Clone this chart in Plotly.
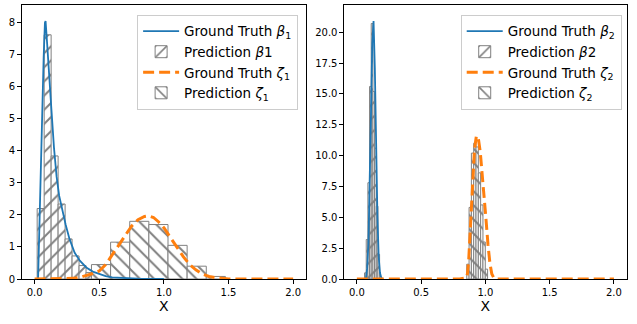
import plotly.graph_objects as go
from plotly.subplots import make_subplots

# ---- left panel (index 1) ----
gt_beta1_x = [0.027, 0.033, 0.04, 0.05, 0.06, 0.07, 0.08, 0.085, 0.097, 0.11, 0.13, 0.15,
              0.17, 0.19, 0.21, 0.24, 0.27, 0.31, 0.35, 0.4, 0.45, 0.5, 0.55, 0.6, 0.7,
              0.8, 0.9, 1.0]
gt_beta1_y = [0.0, 1.0, 2.8, 4.3, 5.6, 6.9, 8.0, 8.05, 7.35, 6.4, 5.3, 4.1,
              3.2, 2.6, 2.2, 1.7, 1.25, 0.82, 0.57, 0.36, 0.23, 0.15, 0.09, 0.05, 0.02,
              0.01, 0.0, 0.0]

gt_zeta1_x = [0.0, 0.2, 0.3, 0.35, 0.4, 0.45, 0.5, 0.55, 0.6, 0.65, 0.7, 0.75, 0.8, 0.85,
              0.88, 0.92, 0.96, 1.0, 1.05, 1.1, 1.15, 1.2, 1.25, 1.3, 1.35, 1.4, 1.45,
              1.5, 2.0]
gt_zeta1_y = [0.0, 0.0, 0.02, 0.05, 0.1, 0.17, 0.25, 0.45, 0.75, 1.05, 1.38, 1.65, 1.85,
              1.95, 1.97, 1.92, 1.78, 1.6, 1.3, 1.0, 0.7, 0.45, 0.28, 0.15, 0.08, 0.04,
              0.02, 0.0, 0.0]

pred_beta1_edges = [0.02, 0.074, 0.128, 0.182, 0.236, 0.29, 0.344, 0.398, 0.452]
pred_beta1_hist = [2.2, 7.62, 3.84, 2.34, 1.25, 0.72, 0.42, 0.2]

pred_zeta1_edges = [0.44, 0.588, 0.736, 0.884, 1.032, 1.18, 1.328, 1.476]
pred_zeta1_hist = [0.45, 1.15, 1.8, 1.7, 1.05, 0.4, 0.08]

# ---- right panel (index 2) ----
gt_beta2_x = [0.07, 0.08, 0.09, 0.1, 0.11, 0.12, 0.13, 0.14, 0.15, 0.16, 0.17, 0.18, 0.19, 0.2]
gt_beta2_y = [0.0, 0.86, 2.83, 7.05, 13.3, 19.1, 20.9, 17.1, 10.7, 5.1, 1.8, 0.5, 0.1, 0.0]

gt_zeta2_x = [0.0, 0.8, 0.85, 0.86, 0.87, 0.88, 0.89, 0.9, 0.915, 0.93, 0.945, 0.96, 0.975,
              0.99, 1.005, 1.02, 1.035, 1.05, 1.065, 1.08, 2.0]
gt_zeta2_y = [0.0, 0.0, 0.1, 0.4, 1.5, 3.5, 6.0, 8.3, 10.5, 11.6, 11.4, 10.3, 8.6,
              6.8, 4.8, 2.8, 1.3, 0.4, 0.1, 0.0, 0.0]

pred_beta2_edges = [0.06, 0.073, 0.086, 0.099, 0.112, 0.125, 0.138, 0.151, 0.164, 0.177]
pred_beta2_hist = [0.5, 3.2, 7.8, 15.6, 20.7, 15.2, 10.6, 5.9, 2.0]

pred_zeta2_edges = [0.855, 0.873, 0.891, 0.909, 0.927, 0.945, 0.963, 0.981, 0.999, 1.017]
pred_zeta2_hist = [1.2, 5.8, 10.2, 11.0, 10.7, 8.6, 6.0, 3.0, 0.8]

BLUE = '#1f77b4'
ORANGE = '#ff7f0e'
GREY = '#808080'
FONT = 'DejaVu Sans'


def hist_bar(edges, heights, shape, name, legend, rank):
    centers = [(a + b) / 2 for a, b in zip(edges[:-1], edges[1:])]
    widths = [b - a for a, b in zip(edges[:-1], edges[1:])]
    return go.Bar(
        x=centers, y=heights, width=widths, name=name, legend=legend, legendrank=rank,
        marker=dict(color='white', line=dict(color=GREY, width=1),
                    pattern=dict(shape=shape, fgcolor=GREY, bgcolor='white',
                                 fillmode='replace', size=10, solidity=0.2)),
        hoverinfo='skip'
    )


fig = make_subplots(rows=1, cols=2)

panels = [
    (1, 'legend', '1', gt_beta1_x, gt_beta1_y, gt_zeta1_x, gt_zeta1_y,
     pred_beta1_edges, pred_beta1_hist, pred_zeta1_edges, pred_zeta1_hist),
    (2, 'legend2', '2', gt_beta2_x, gt_beta2_y, gt_zeta2_x, gt_zeta2_y,
     pred_beta2_edges, pred_beta2_hist, pred_zeta2_edges, pred_zeta2_hist),
]

for col, leg, k, bx, by, zx, zy, be, bh, ze, zh in panels:
    # bars first so the lines sit on top
    fig.add_trace(hist_bar(be, bh, '/', f'Prediction <i>β</i>{k}', leg, 2), row=1, col=col)
    fig.add_trace(hist_bar(ze, zh, '\\', f'Prediction <i>ζ</i><sub>{k}</sub>', leg, 4),
                  row=1, col=col)
    fig.add_trace(go.Scatter(x=bx, y=by, mode='lines', name=f'Ground Truth <i>β</i><sub>{k}</sub>',
                             line=dict(color=BLUE, width=1.8), legend=leg, legendrank=1),
                  row=1, col=col)
    fig.add_trace(go.Scatter(x=zx, y=zy, mode='lines', name=f'Ground Truth <i>ζ</i><sub>{k}</sub>',
                             line=dict(color=ORANGE, width=3, dash='11px,5px'),
                             legend=leg, legendrank=3),
                  row=1, col=col)

axis_style = dict(showline=True, mirror=True, linecolor='black', linewidth=1,
                  ticks='outside', ticklen=3.5, tickwidth=1, tickcolor='black',
                  showgrid=False, zeroline=False, automargin=False,
                  tickfont=dict(size=10, color='black'))

fig.update_xaxes(**axis_style, range=[-0.1, 2.1], tickvals=[0.0, 0.5, 1.0, 1.5, 2.0],
                 ticktext=['0.0', '0.5', '1.0', '1.5', '2.0'],
                 title=dict(text='X', font=dict(size=14, color='black'), standoff=4))
fig.update_xaxes(domain=[0.034, 0.4805], row=1, col=1)
fig.update_xaxes(domain=[0.540, 0.984], row=1, col=2)
fig.update_yaxes(**axis_style)
fig.update_yaxes(range=[0, 8.55], dtick=1, row=1, col=1)
fig.update_yaxes(range=[0, 22.2], tickvals=[0, 2.5, 5, 7.5, 10, 12.5, 15, 17.5, 20],
                 ticktext=['0.0', '2.5', '5.0', '7.5', '10.0', '12.5', '15.0', '17.5', '20.0'],
                 row=1, col=2)

legend_style = dict(xanchor='right', yanchor='top', y=0.964, bgcolor='rgba(255,255,255,0.8)',
                    bordercolor='#cccccc', borderwidth=1, font=dict(size=13.5, color='black'),
                    tracegroupgap=0, itemwidth=36)

fig.update_layout(
    width=637, height=324,
    barmode='overlay',
    plot_bgcolor='white', paper_bgcolor='white',
    font=dict(family=FONT, color='black'),
    margin=dict(l=0, r=0, t=5, b=45),
    legend=dict(x=0.468, **legend_style),
    legend2=dict(x=0.976, **legend_style),
)

# drop the default page margin so the figure sits at the window's corner
fig.write_html("out.html", config={'displayModeBar': False},
               post_script="document.body.style.margin='0';")
